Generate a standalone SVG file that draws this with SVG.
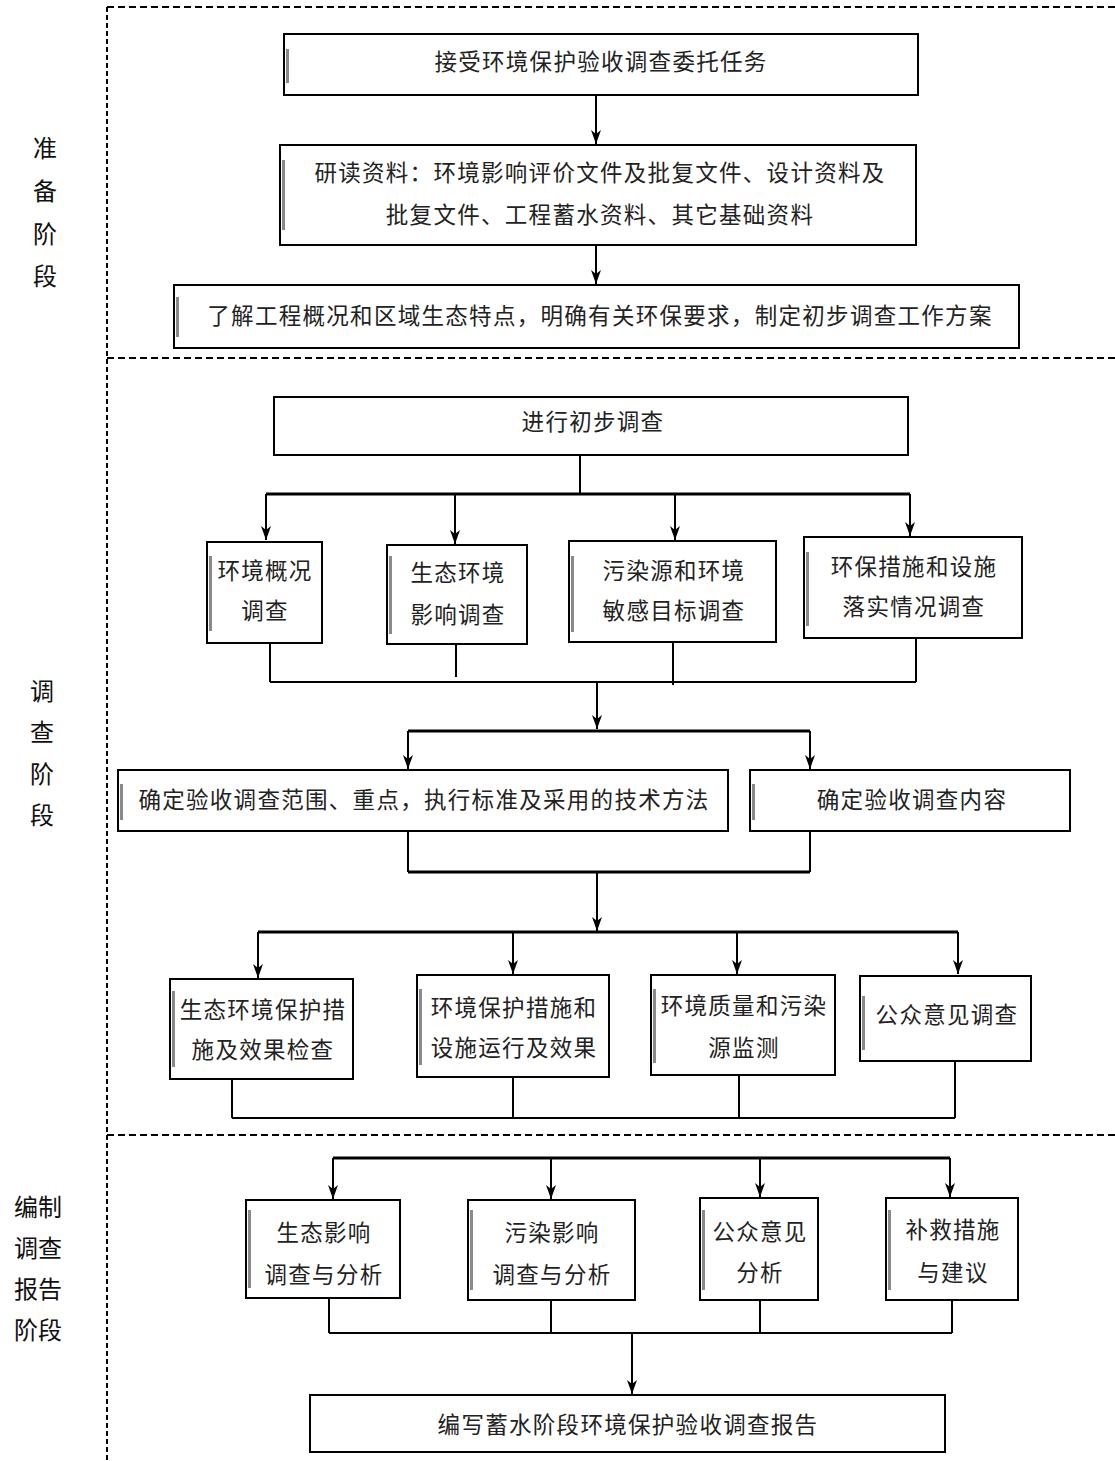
<svg xmlns="http://www.w3.org/2000/svg" width="1115" height="1461" viewBox="0 0 1115 1461">
  <style>
    .box { fill: #ffffff; stroke: #000000; stroke-width: 2; }
    .shade { fill: #8a8a8a; }
    .t { font-family: "Liberation Serif", "Noto Sans CJK SC", serif; font-size: 22.5px; fill: #222222; text-anchor: middle; letter-spacing: 1.3px; }
    .stage { font-family: "Liberation Serif", "Noto Sans CJK SC", serif; font-size: 24px; fill: #111111; text-anchor: middle; }
    .ln { fill: none; stroke: #000000; stroke-width: 2; }
    .bar { fill: none; stroke: #000000; stroke-width: 3.2; }
    .dash { fill: none; stroke: #000000; stroke-width: 2; stroke-dasharray: 7 4; }
    .dashv { fill: none; stroke: #000000; stroke-width: 2; stroke-dasharray: 5 3; }
  </style>
  <defs>
    <marker id="ah" viewBox="0 0 10 16" refX="5" refY="16" markerWidth="10" markerHeight="16" markerUnits="userSpaceOnUse" orient="0">
      <path d="M0,2 L5,16 L10,2 L5,6 Z" fill="#000000"/>
    </marker>
  </defs>

  <!-- stage frame -->
  <g id="frame">
    <path class="dashv" d="M107,7 V1461"/>
    <path class="dash" d="M107,7 H1115"/>
    <path class="dash" d="M107,358 H1115"/>
    <path class="dash" d="M107,1135 H1115"/>
  </g>

  <!-- stage labels -->
  <g id="stage-prepare">
    <text class="stage" x="45" y="157">准</text>
    <text class="stage" x="45" y="200">备</text>
    <text class="stage" x="45" y="243">阶</text>
    <text class="stage" x="45" y="285">段</text>
  </g>
  <g id="stage-survey">
    <text class="stage" x="42" y="700">调</text>
    <text class="stage" x="42" y="741">查</text>
    <text class="stage" x="42" y="783">阶</text>
    <text class="stage" x="42" y="824">段</text>
  </g>
  <g id="stage-report">
    <text class="stage" x="38" y="1216">编制</text>
    <text class="stage" x="38" y="1257">调查</text>
    <text class="stage" x="38" y="1298">报告</text>
    <text class="stage" x="38" y="1339">阶段</text>
  </g>

  <!-- connectors -->
  <g id="connectors">
    <path class="ln" d="M596,95 V144" marker-end="url(#ah)"/>
    <path class="ln" d="M596,245 V284" marker-end="url(#ah)"/>

    <path class="ln" d="M580,455 V494"/>
    <path class="bar" d="M266,494 H910"/>
    <path class="ln" d="M266,494 V540" marker-end="url(#ah)"/>
    <path class="ln" d="M455,494 V544" marker-end="url(#ah)"/>
    <path class="ln" d="M675,494 V540" marker-end="url(#ah)"/>
    <path class="ln" d="M910,494 V536" marker-end="url(#ah)"/>

    <path class="ln" d="M270,643 V682"/>
    <path class="ln" d="M456,644 V677"/>
    <path class="ln" d="M673,642 V685"/>
    <path class="ln" d="M916,638 V682"/>
    <path class="ln" d="M270,682 H916"/>
    <path class="ln" d="M597,682 V729" marker-end="url(#ah)"/>

    <path class="bar" d="M408,731 H810"/>
    <path class="ln" d="M408,731 V769" marker-end="url(#ah)"/>
    <path class="ln" d="M810,731 V769" marker-end="url(#ah)"/>

    <path class="ln" d="M408,831 V872"/>
    <path class="ln" d="M810,831 V872"/>
    <path class="bar" d="M408,872 H810"/>
    <path class="ln" d="M597,872 V931" marker-end="url(#ah)"/>

    <path class="bar" d="M258,932 H958"/>
    <path class="ln" d="M258,932 V978" marker-end="url(#ah)"/>
    <path class="ln" d="M513,932 V974" marker-end="url(#ah)"/>
    <path class="ln" d="M737,932 V974" marker-end="url(#ah)"/>
    <path class="ln" d="M958,932 V974" marker-end="url(#ah)"/>

    <path class="ln" d="M232,1079 V1118"/>
    <path class="ln" d="M513,1077 V1118"/>
    <path class="ln" d="M739,1075 V1118"/>
    <path class="ln" d="M955,1061 V1118"/>
    <path class="ln" d="M232,1118 H955"/>

    <path class="bar" d="M333,1158 H950"/>
    <path class="ln" d="M333,1158 V1199" marker-end="url(#ah)"/>
    <path class="ln" d="M551,1158 V1199" marker-end="url(#ah)"/>
    <path class="ln" d="M760,1158 V1197" marker-end="url(#ah)"/>
    <path class="ln" d="M950,1158 V1197" marker-end="url(#ah)"/>

    <path class="ln" d="M329,1298 V1333"/>
    <path class="ln" d="M551,1300 V1333"/>
    <path class="ln" d="M760,1300 V1333"/>
    <path class="ln" d="M952,1300 V1333"/>
    <path class="ln" d="M329,1333 H952"/>
    <path class="ln" d="M632,1333 V1394" marker-end="url(#ah)"/>
  </g>

  <!-- preparation stage -->
  <g id="n-accept">
    <rect class="box" x="284" y="34" width="634" height="61"/>
    <rect class="shade" x="286" y="49" width="3" height="34"/>
    <text class="t" x="601" y="70">接受环境保护验收调查委托任务</text>
  </g>
  <g id="n-study">
    <rect class="box" x="280" y="145" width="636" height="100"/>
    <rect class="shade" x="282" y="160" width="3" height="70"/>
    <text class="t" x="600" y="181">研读资料：环境影响评价文件及批复文件、设计资料及</text>
    <text class="t" x="600" y="223">批复文件、工程蓄水资料、其它基础资料</text>
  </g>
  <g id="n-plan">
    <rect class="box" x="174" y="285" width="845" height="63"/>
    <rect class="shade" x="176" y="297" width="3" height="40"/>
    <text class="t" x="600" y="324">了解工程概况和区域生态特点，明确有关环保要求，制定初步调查工作方案</text>
  </g>

  <!-- survey stage -->
  <g id="n-prelim">
    <rect class="box" x="274" y="397" width="634" height="58"/>
    <text class="t" x="593" y="430">进行初步调查</text>
  </g>
  <g id="n-env-overview">
    <rect class="box" x="207" y="542" width="115" height="101"/>
    <rect class="shade" x="209" y="556" width="3" height="75"/>
    <text class="t" x="265" y="579">环境概况</text>
    <text class="t" x="265" y="619">调查</text>
  </g>
  <g id="n-eco-impact">
    <rect class="box" x="387" y="545" width="140" height="99"/>
    <rect class="shade" x="389" y="556" width="3" height="78"/>
    <text class="t" x="458" y="581">生态环境</text>
    <text class="t" x="458" y="623">影响调查</text>
  </g>
  <g id="n-pollution-src">
    <rect class="box" x="569" y="541" width="207" height="101"/>
    <rect class="shade" x="571" y="556" width="3" height="76"/>
    <text class="t" x="674" y="579">污染源和环境</text>
    <text class="t" x="674" y="619">敏感目标调查</text>
  </g>
  <g id="n-measures-impl">
    <rect class="box" x="804" y="537" width="218" height="101"/>
    <rect class="shade" x="806" y="552" width="3" height="74"/>
    <text class="t" x="914" y="575">环保措施和设施</text>
    <text class="t" x="914" y="615">落实情况调查</text>
  </g>
  <g id="n-scope">
    <rect class="box" x="118" y="770" width="610" height="61"/>
    <rect class="shade" x="120" y="784" width="3" height="36"/>
    <text class="t" x="424" y="808">确定验收调查范围、重点，执行标准及采用的技术方法</text>
  </g>
  <g id="n-content">
    <rect class="box" x="750" y="770" width="320" height="61"/>
    <rect class="shade" x="752" y="784" width="3" height="36"/>
    <text class="t" x="912" y="808">确定验收调查内容</text>
  </g>
  <g id="n-eco-check">
    <rect class="box" x="170" y="979" width="183" height="100"/>
    <rect class="shade" x="172" y="991" width="3" height="76"/>
    <text class="t" x="263" y="1018">生态环境保护措</text>
    <text class="t" x="263" y="1058">施及效果检查</text>
  </g>
  <g id="n-facility-run">
    <rect class="box" x="417" y="975" width="192" height="102"/>
    <rect class="shade" x="419" y="989" width="3" height="76"/>
    <text class="t" x="514" y="1016">环境保护措施和</text>
    <text class="t" x="514" y="1056">设施运行及效果</text>
  </g>
  <g id="n-monitor">
    <rect class="box" x="651" y="975" width="184" height="100"/>
    <rect class="shade" x="653" y="989" width="3" height="74"/>
    <text class="t" x="744" y="1014">环境质量和污染</text>
    <text class="t" x="744" y="1056">源监测</text>
  </g>
  <g id="n-public-survey">
    <rect class="box" x="860" y="976" width="171" height="85"/>
    <rect class="shade" x="862" y="996" width="3" height="54"/>
    <text class="t" x="947" y="1023">公众意见调查</text>
  </g>

  <!-- report stage -->
  <g id="n-eco-analysis">
    <rect class="box" x="246" y="1200" width="154" height="98"/>
    <rect class="shade" x="248" y="1210" width="3" height="78"/>
    <text class="t" x="324" y="1241">生态影响</text>
    <text class="t" x="324" y="1283">调查与分析</text>
  </g>
  <g id="n-pollution-analysis">
    <rect class="box" x="468" y="1200" width="167" height="100"/>
    <rect class="shade" x="470" y="1210" width="3" height="80"/>
    <text class="t" x="552" y="1241">污染影响</text>
    <text class="t" x="552" y="1283">调查与分析</text>
  </g>
  <g id="n-public-analysis">
    <rect class="box" x="700" y="1198" width="118" height="102"/>
    <rect class="shade" x="702" y="1210" width="3" height="80"/>
    <text class="t" x="760" y="1240">公众意见</text>
    <text class="t" x="760" y="1281">分析</text>
  </g>
  <g id="n-remedy">
    <rect class="box" x="886" y="1198" width="132" height="102"/>
    <rect class="shade" x="888" y="1210" width="3" height="80"/>
    <text class="t" x="953" y="1238">补救措施</text>
    <text class="t" x="953" y="1281">与建议</text>
  </g>
  <g id="n-report">
    <rect class="box" x="310" y="1395" width="635" height="57"/>
    <text class="t" x="628" y="1433">编写蓄水阶段环境保护验收调查报告</text>
  </g>
</svg>
